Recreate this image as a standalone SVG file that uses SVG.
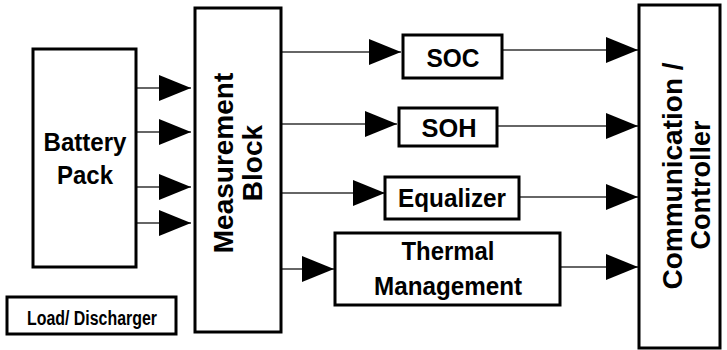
<svg xmlns="http://www.w3.org/2000/svg" width="727" height="350" viewBox="0 0 727 350">
<style>
.box{fill:#fff;stroke:#000;stroke-width:3}
.t{font-family:"Liberation Sans",Arial,sans-serif;font-weight:bold;fill:#000;text-anchor:middle}
.ln{stroke:#333;stroke-width:1.3;fill:none}
</style>
<defs>
<marker id="ah" markerUnits="userSpaceOnUse" markerWidth="33" markerHeight="27" refX="32" refY="13" orient="auto">
<path d="M0,0 L32,13 L0,26 z" fill="#000"/>
</marker>
</defs>
<rect width="727" height="350" fill="#fff"/>
<g id="connectors">
<line class="ln" x1="136" y1="88" x2="191" y2="88" marker-end="url(#ah)"/>
<line class="ln" x1="136" y1="132" x2="191" y2="132" marker-end="url(#ah)"/>
<line class="ln" x1="136" y1="187" x2="191" y2="187" marker-end="url(#ah)"/>
<line class="ln" x1="136" y1="223" x2="191" y2="223" marker-end="url(#ah)"/>
<line class="ln" x1="281" y1="52" x2="401" y2="52" marker-end="url(#ah)"/>
<line class="ln" x1="281" y1="124" x2="397" y2="124" marker-end="url(#ah)"/>
<line class="ln" x1="281" y1="193" x2="385" y2="193" marker-end="url(#ah)"/>
<line class="ln" x1="281" y1="269" x2="334" y2="269" marker-end="url(#ah)"/>
<line class="ln" x1="502" y1="50" x2="638" y2="50" marker-end="url(#ah)"/>
<line class="ln" x1="497" y1="126" x2="638" y2="126" marker-end="url(#ah)"/>
<line class="ln" x1="519" y1="197" x2="638" y2="197" marker-end="url(#ah)"/>
<line class="ln" x1="560" y1="267" x2="638" y2="267" marker-end="url(#ah)"/>
</g>
<g id="battery">
<rect class="box" x="33" y="49" width="103" height="218"/>
<text class="t" x="85" y="151" font-size="26" textLength="83" lengthAdjust="spacingAndGlyphs">Battery</text>
<text class="t" x="85" y="184" font-size="26" textLength="56" lengthAdjust="spacingAndGlyphs">Pack</text>
</g>
<g id="load">
<rect class="box" x="7" y="297" width="169" height="37"/>
<text class="t" x="92" y="325" font-size="20" textLength="130" lengthAdjust="spacingAndGlyphs">Load/ Discharger</text>
</g>
<g id="measurement">
<rect class="box" x="195" y="8" width="86" height="324"/>
<text class="t" transform="translate(233,163) rotate(-90)" font-size="28">Measurement</text>
<text class="t" transform="translate(262,163) rotate(-90)" font-size="28">Block</text>
</g>
<g id="soc">
<rect class="box" x="403" y="35" width="99" height="43"/>
<text class="t" x="453" y="67" font-size="26" textLength="53" lengthAdjust="spacingAndGlyphs">SOC</text>
</g>
<g id="soh">
<rect class="box" x="399" y="108" width="98" height="38"/>
<text class="t" x="449" y="137" font-size="26" textLength="55" lengthAdjust="spacingAndGlyphs">SOH</text>
</g>
<g id="equalizer">
<rect class="box" x="385" y="177" width="134" height="42"/>
<text class="t" x="452" y="207" font-size="26" textLength="108" lengthAdjust="spacingAndGlyphs">Equalizer</text>
</g>
<g id="thermal">
<rect class="box" x="335" y="233" width="225" height="72"/>
<text class="t" x="448" y="260" font-size="26" textLength="93" lengthAdjust="spacingAndGlyphs">Thermal</text>
<text class="t" x="448" y="295" font-size="26" textLength="148" lengthAdjust="spacingAndGlyphs">Management</text>
</g>
<g id="controller">
<rect class="box" x="639" y="5" width="81" height="343"/>
<text class="t" transform="translate(682,176) rotate(-90)" font-size="28">Communication /</text>
<text class="t" transform="translate(710,185) rotate(-90)" font-size="27">Controller</text>
</g>
</svg>
